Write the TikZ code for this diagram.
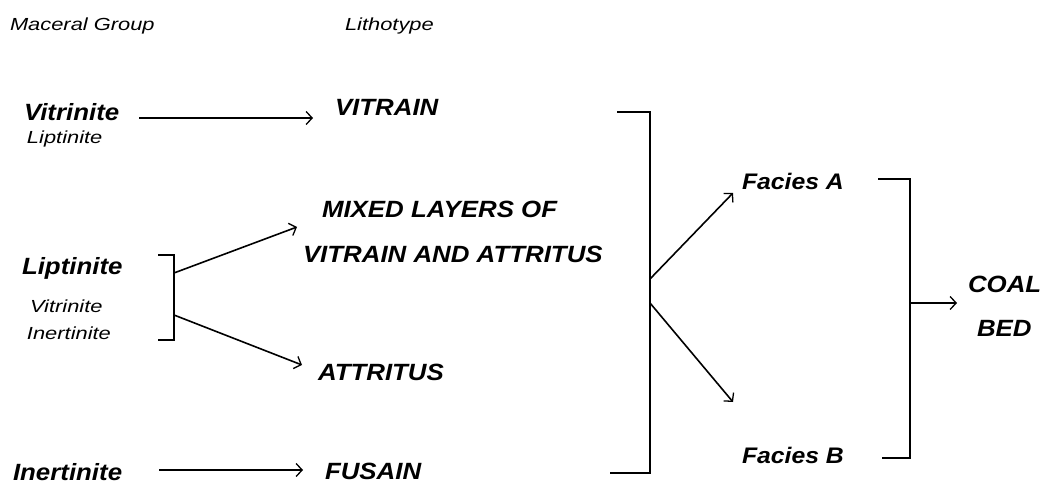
\documentclass[tikz,border=0pt]{standalone}
\usepackage{fontspec}
\setmainfont{Liberation Sans}[
  ItalicFeatures={FakeStretch=1.25},
  BoldItalicFeatures={FakeStretch=1.1}]
\usetikzlibrary{arrows.meta}

\begin{document}
\begin{tikzpicture}[x=1pt,y=-1pt,
  every node/.style={inner sep=0pt,outer sep=0pt,anchor=base west},
  head/.style={font=\fontsize{17.5}{20}\selectfont\itshape},
  minor/.style={font=\fontsize{17.5}{20}\selectfont\itshape},
  major/.style={font=\fontsize{23.5}{28}\selectfont\bfseries\itshape},
  facies/.style={font=\fontsize{22.5}{27}\selectfont\bfseries\itshape},
  arr/.style={line width=1.6pt,-{Straight Barb[length=6pt,width=13pt,line width=1.3pt]}},
  bracket/.style={line width=1.8pt}]
\useasboundingbox (0,0) rectangle (1055,486);

% column headings
\node[head] (mg) at (10,31) {Maceral Group};
\node[head] (lt) at (345,31) {Lithotype};

% maceral groups
\node[major] (vit) at (24,121) {Vitrinite};
\node[minor] (vitsub) at (27,144) {Liptinite};
\node[major] (lip) at (22,275) {Liptinite};
\node[minor] (lipsubA) at (30,313) {Vitrinite};
\node[minor] (lipsubB) at (27,339) {Inertinite};
\node[major] (inert) at (13,480) {Inertinite};

% lithotypes
\node[major] (vitrain) at (335,116) {VITRAIN};
\node[major] (mixedA) at (322,218) {MIXED LAYERS OF};
\node[major] (mixedB) at (303,263) {VITRAIN AND ATTRITUS};
\node[major] (attritus) at (318,380) {ATTRITUS};
\node[major] (fusain) at (325,479) {FUSAIN};

% facies and coal bed
\node[facies] (faciesA) at (742,190) {Facies A};
\node[facies] (faciesB) at (742,463) {Facies B};
\node[major] (coal) at (968,293) {COAL};
\node[major] (bed) at (977,337) {BED};

% bracket joining the liptinite-rich group
\coordinate (lbTop) at (158,255);
\coordinate (lbBot) at (158,340);
\coordinate (lbUp) at (174,273);
\coordinate (lbDown) at (174,315);
\draw[bracket] (lbTop) -- (174,255) -- (174,340) -- (lbBot);

% bracket gathering the lithotypes
\coordinate (bbTop) at (617,112);
\coordinate (bbBot) at (610,473);
\coordinate (bbUp) at (650,279);
\coordinate (bbDown) at (650,303);
\draw[bracket] (bbTop) -- (650,112) -- (650,473) -- (bbBot);

% bracket gathering the facies
\coordinate (fbTop) at (878,179);
\coordinate (fbBot) at (882,458);
\coordinate (fbOut) at (910,303);
\draw[bracket] (fbTop) -- (910,179) -- (910,458) -- (fbBot);

% connectors
\draw[arr] ([shift={(20,-3)}]vit.base east) -- ([shift={(-22,2)}]vitrain.base west);
\draw[arr] (lbUp) -- ([shift={(-25,9)}]mixedA.base west);
\draw[arr] (lbDown) -- ([shift={(-16,-15)}]attritus.base west);
\draw[arr] ([shift={(37,-10)}]inert.base east) -- ([shift={(-22,-9)}]fusain.base west);
\draw[arr] (bbUp) -- ([shift={(-9,3)}]faciesA.base west);
\draw[arr] (bbDown) -- ([shift={(-9,-61)}]faciesB.base west);
\draw[arr] (fbOut) -- ([shift={(-11,10)}]coal.base west);
\end{tikzpicture}
\end{document}
